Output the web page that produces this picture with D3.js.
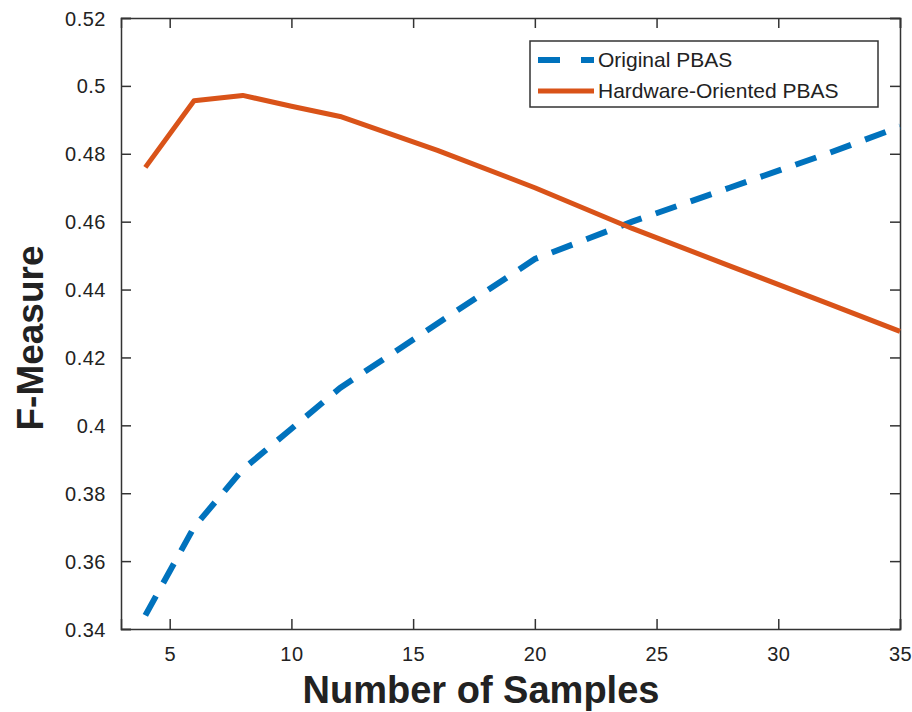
<!DOCTYPE html>
<html><head><meta charset="utf-8">
<script src="https://cdn.jsdelivr.net/npm/d3@7"></script>
<style>body{margin:0;background:#fff}svg{display:block}text{font-family:"Liberation Sans",Arial,sans-serif}</style>
</head><body><svg id="c" width="912" height="712"></svg>
<script>
const samples = [4, 6, 8, 10, 12, 16, 20, 24, 28, 32, 35];
const originalPBAS = [0.344, 0.370, 0.387, 0.399, 0.411, 0.430, 0.449, 0.460, 0.470, 0.480, 0.488];
const hardwarePBAS = [0.476, 0.4956, 0.4972, 0.494, 0.491, 0.481, 0.470, 0.458, 0.447, 0.436, 0.4277];
const xTicks = [5, 10, 15, 20, 25, 30, 35];
const yTicks = [0.34, 0.36, 0.38, 0.4, 0.42, 0.44, 0.46, 0.48, 0.5, 0.52];
const seriesNames = ["Original PBAS", "Hardware-Oriented PBAS"];

const svg = d3.select("#c");
const L = 121, R = 900, T = 18, B = 629;
const x = d3.scaleLinear().domain([3, 35]).range([L, R]);
const y = d3.scaleLinear().domain([0.34, 0.52]).range([B, T]);
const axisCol = "#333";

// axes
const gx = svg.append("g").attr("transform", `translate(0,${B})`)
  .call(d3.axisBottom(x).tickValues(xTicks).tickSize(-10).tickPadding(18).tickFormat(d3.format("d")));
const gy = svg.append("g").attr("transform", `translate(${L},0)`)
  .call(d3.axisLeft(y).tickValues(yTicks).tickSize(-10).tickPadding(15).tickFormat(d => String(+d.toFixed(2))));
const gxt = svg.append("g").attr("transform", `translate(0,${T})`)
  .call(d3.axisTop(x).tickValues(xTicks).tickSize(-10).tickFormat(""));
const gyr = svg.append("g").attr("transform", `translate(${R},0)`)
  .call(d3.axisRight(y).tickValues(yTicks).tickSize(-10).tickFormat(""));
[gx, gy, gxt, gyr].forEach(g => {
  g.select(".domain").attr("stroke", axisCol).attr("stroke-width", 1.5);
  g.selectAll(".tick line").attr("stroke", axisCol).attr("stroke-width", 1.5);
  g.selectAll(".tick text").attr("fill", "#222").style("font-size", "20px")
    .style("letter-spacing", "0.5px").attr("font-family", "Liberation Sans, Arial, sans-serif");
});
gy.selectAll(".tick text").attr("dy", "0.35em");

// lines
const line = d3.line().x((d, i) => x(samples[i])).y(d => y(d));
svg.append("path").datum(originalPBAS).attr("d", line)
  .attr("fill", "none").attr("stroke", "#0072BD").attr("stroke-width", 6)
  .attr("stroke-dasharray", "22,15");
svg.append("path").datum(hardwarePBAS).attr("d", line)
  .attr("fill", "none").attr("stroke", "#D95319").attr("stroke-width", 5)
  .attr("stroke-linejoin", "round");

// axis labels
svg.append("text").attr("x", 481).attr("y", 703).attr("text-anchor", "middle")
  .style("font-size", "38px").style("font-weight", "bold").attr("fill", "#222").text("Number of Samples");
svg.append("text").attr("transform", `translate(43,338) rotate(-90)`).attr("text-anchor", "middle")
  .style("font-size", "37px").style("font-weight", "bold").attr("fill", "#222").text("F-Measure");

// legend
const lg = svg.append("g");
lg.append("rect").attr("x", 530).attr("y", 41).attr("width", 348).attr("height", 66)
  .attr("fill", "#fff").attr("stroke", axisCol).attr("stroke-width", 1.5);
const rows = [{c: "#0072BD", dash: "22,21", w: 6}, {c: "#D95319", dash: null, w: 5}];
rows.forEach((r, i) => {
  const yy = 60 + i * 31;
  lg.append("line").attr("x1", 538).attr("x2", 594).attr("y1", yy).attr("y2", yy)
    .attr("stroke", r.c).attr("stroke-width", r.w).attr("stroke-dasharray", r.dash);
  lg.append("text").attr("x", 598).attr("y", yy).attr("dy", "0.35em")
    .style("font-size", "21px").attr("fill", "#222").text(seriesNames[i]);
});
</script></body></html>
